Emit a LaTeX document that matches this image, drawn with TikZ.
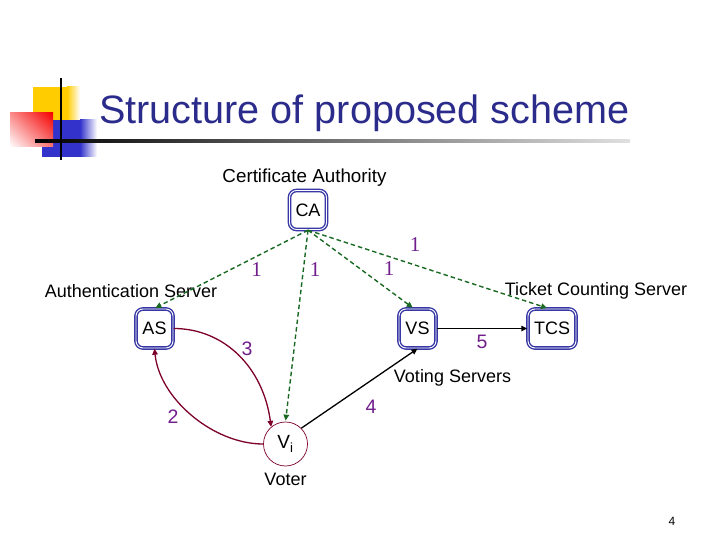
\documentclass[tikz,border=0pt]{standalone}
\usepackage{fontspec}
\setmainfont{Liberation Sans}
\newfontfamily\stepserif{Liberation Serif}
\usepackage{xcolor}
\usetikzlibrary{shapes.geometric, arrows.meta, positioning, calc, shadings}
\definecolor{slidenavy}{RGB}{43,43,140}
\definecolor{boxblue}{RGB}{55,55,165}
\definecolor{linkgreen}{RGB}{25,105,35}
\definecolor{linkred}{RGB}{125,0,40}
\definecolor{steppurple}{RGB}{112,30,140}
\definecolor{slideyellow}{RGB}{255,204,0}
\definecolor{slidered}{RGB}{245,0,0}
\definecolor{slideblue}{RGB}{51,51,204}

\begin{document}
\begin{tikzpicture}[x=1pt, y=-1pt,
  server/.style={draw=boxblue, double=white, double distance=0.9pt, line width=1.4pt,
    rounded corners=7pt, minimum width=37pt, minimum height=39pt, inner sep=2pt,
    font=\fontsize{18}{18}\selectfont},
  voter/.style={circle, draw=linkred, line width=0.7pt, minimum size=44pt, inner sep=0pt,
    font=\fontsize{19}{19}\selectfont},
  caption/.style={anchor=base, inner sep=0pt, font=\fontsize{18}{18}\selectfont},
  stepone/.style={text=steppurple, inner sep=0pt, font=\stepserif\fontsize{21}{21}\selectfont},
  stepnum/.style={text=steppurple, inner sep=0pt, font=\fontsize{19.5}{19.5}\selectfont},
  calink/.style={draw=linkgreen, line width=1.4pt, dash pattern=on 4.5pt off 3pt,
    -{Triangle[length=6pt,width=5.5pt]}, shorten >=1pt},
  votelink/.style={draw=linkred, line width=1.3pt, -{Triangle[length=6pt,width=5.5pt]}},
  plainlink/.style={draw=black, line width=1.3pt, -{Triangle[length=6pt,width=5.5pt]}}
]
\useasboundingbox (0,0) rectangle (720,540);
% Slide corner
\fill[slideyellow] (33,87) rectangle (67,130);
\shade[left color=slideyellow, right color=white] (67,87) rectangle (80,130);
\fill[slideblue] (42,120) rectangle (80,157);
\shade[left color=slideblue, right color=white] (80,120) rectangle (97,157);
\shade[upper right=slidered, upper left=slidered!45!white,
  lower right=slidered!55!white, lower left=white] (10,113) rectangle (53,147);
\shade[left color=black, right color=black!12] (35,139.6) rectangle (630,142.6);
\draw[line width=2pt] (61,78) -- (61,160);
\node[anchor=base west, inner sep=0pt, text=slidenavy, font=\fontsize{39.6}{39.6}\selectfont]
  (title) at (99,124) {Structure of proposed scheme};
% Servers
\node[server] (CA) at (308,210) {CA};
\node[server] (AS) at (154.5,328.5) {AS};
\node[server] (VS) at (417.5,328.5) {VS};
\node[server, minimum width=48pt] (TCS) at (552,328.5) {TCS};
\node[voter] (Vi) at (285.5,444) {V\textsubscript{i}};
% Names
\node[caption, font=\fontsize{18.8}{18.8}\selectfont] (CAname) at (304.5,183) {Certificate Authority};
\node[caption] (ASname) at (131,297) {Authentication Server};
\node[caption] (TCSname) at (596,295) {Ticket Counting Server};
\node[caption] (VSname) at (452.5,382) {Voting Servers};
\node[caption] (Viname) at (285.5,485) {Voter};
% Links
\draw[calink] (CA.south) -- (AS.north);
\draw[calink] (CA.south) -- (Vi.north);
\draw[calink] (CA.south) -- ([xshift=-4pt]VS.north);
\draw[calink] (CA.south) -- ([xshift=-4pt]TCS.north);
\draw[votelink] (AS.east) .. controls +(50,0) and +(-8,-60) .. (Vi.130);
\draw[votelink] (Vi.west) .. controls +(-50,0) and +(5,50) .. (AS.south);
\draw[plainlink] (Vi.45) -- (VS.south);
\draw[plainlink] (VS.east) -- (TCS.west);
% Steps
\node[stepone] (one1) at (256.7,270) {1};
\node[stepone] (one2) at (315,270) {1};
\node[stepone] (one3) at (389,269) {1};
\node[stepone] (one4) at (415,245) {1};
\node[stepnum] (two) at (173,417) {2};
\node[stepnum] (three) at (247,349) {3};
\node[stepnum] (four) at (371,407) {4};
\node[stepnum] (five) at (482,342) {5};
\node[font=\fontsize{12}{12}\selectfont] (pagenum) at (672,521) {4};
\end{tikzpicture}
\end{document}
